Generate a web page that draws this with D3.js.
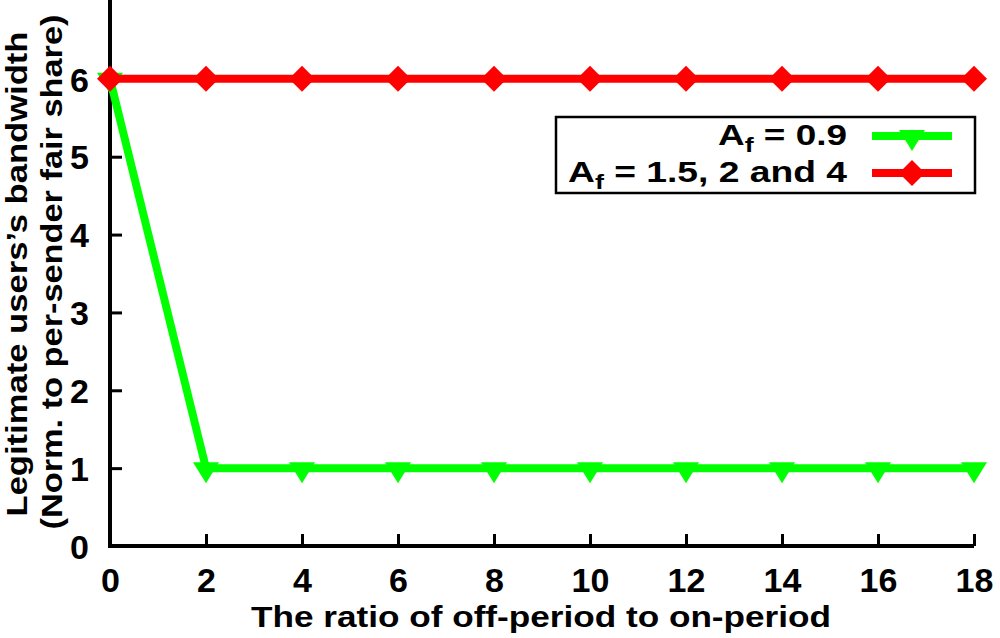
<!DOCTYPE html>
<html>
<head>
<meta charset="utf-8">
<script src="https://cdn.jsdelivr.net/npm/d3@7"></script>
<style>
  body { margin: 0; background: #fff; }
  text { font-family: "Liberation Sans", Arial, sans-serif; font-weight: bold; fill: #000; }
</style>
</head>
<body>
<div id="chart"></div>
<script>
// data
const ratios = [0, 2, 4, 6, 8, 10, 12, 14, 16, 18];
const lowAf = [6, 1, 1, 1, 1, 1, 1, 1, 1, 1];      // A_f = 0.9
const highAf = [6, 6, 6, 6, 6, 6, 6, 6, 6, 6];     // A_f = 1.5, 2 and 4
const xTicks = [0, 2, 4, 6, 8, 10, 12, 14, 16, 18];
const yTicks = [0, 1, 2, 3, 4, 5, 6];

const W = 1000, H = 638;
const svg = d3.select("#chart").append("svg").attr("width", W).attr("height", H);

const x = d3.scaleLinear().domain([0, 18]).range([110, 974]);
const y = d3.scaleLinear().domain([0, 7]).range([546, 1]);

// axes (gnuplot style: ticks point inward)
const axX = svg.append("g").attr("transform", `translate(0,${y(0)})`)
    .call(d3.axisBottom(x).tickValues(xTicks).tickFormat(d3.format("d"))
        .tickSize(-12).tickPadding(34).tickSizeOuter(0));
const axY = svg.append("g").attr("transform", `translate(${x(0)},0)`)
    .call(d3.axisLeft(y).tickValues(yTicks).tickFormat(d3.format("d"))
        .tickSize(-12).tickPadding(21).tickSizeOuter(0));

[axX, axY].forEach(a => {
    a.attr("font-size", null).attr("font-family", null);
    a.select(".domain").attr("stroke", "#000").attr("stroke-width", 4);
    a.selectAll(".tick line").attr("stroke", "#000").attr("stroke-width", 3);
    a.selectAll(".tick text").style("font-size", "34px");
});
// left axis runs to the top edge
axY.select(".domain").attr("d", `M0,${y(0)}V0`);
axX.select(".domain").attr("d", `M${x(0) - 2},0H${x(18)}`);
axY.selectAll(".tick text").attr("dy", "0.36em");
axX.selectAll(".tick text").attr("dy", "0.36em");

// axis titles
svg.append("text").attr("x", 541).attr("y", 627).attr("text-anchor", "middle")
    .style("font-size", "30px").attr("textLength", 580).attr("lengthAdjust", "spacingAndGlyphs")
    .text("The ratio of off-period to on-period");

svg.append("text").attr("transform", "translate(27,274) rotate(-90)").attr("text-anchor", "middle")
    .style("font-size", "30px").attr("textLength", 485).attr("lengthAdjust", "spacingAndGlyphs")
    .text("Legitimate users\u2019s bandwidth");
svg.append("text").attr("transform", "translate(62,272) rotate(-90)").attr("text-anchor", "middle")
    .style("font-size", "30px").attr("textLength", 515).attr("lengthAdjust", "spacingAndGlyphs")
    .text("(Norm. to per-sender fair share)");

// markers
const triangle = "M-13,-6L13,-6L0,15Z";
const diamond = "M0,-13L13,0L0,13L-13,0Z";

const line = d3.line().x(d => x(d[0])).y(d => y(d[1]));
const series = [
    { vals: lowAf, color: "#00ff00", marker: triangle },
    { vals: highAf, color: "#ff0000", marker: diamond }
];

series.forEach(s => {
    const pts = ratios.map((r, i) => [r, s.vals[i]]);
    svg.append("path").datum(pts).attr("d", line)
        .attr("fill", "none").attr("stroke", s.color).attr("stroke-width", 8);
    svg.selectAll(null).data(pts).join("path")
        .attr("d", s.marker).attr("fill", s.color)
        .attr("transform", d => `translate(${x(d[0])},${y(d[1])})`);
});

// legend
const legend = svg.append("g");
legend.append("rect").attr("x", 556).attr("y", 117).attr("width", 419).attr("height", 76)
    .attr("fill", "#fff").attr("stroke", "#000").attr("stroke-width", 2.5);

const legendRows = [
    { label: " = 0.9", s: series[0], cy: 136, len: 129 },
    { label: " = 1.5, 2 and 4", s: series[1], cy: 173, len: 279 }
];
legendRows.forEach(r => {
    const t = legend.append("text").attr("x", 847).attr("y", r.cy + 9).attr("text-anchor", "end")
        .style("font-size", "29px").attr("textLength", r.len).attr("lengthAdjust", "spacingAndGlyphs");
    t.append("tspan").text("A");
    t.append("tspan").attr("dy", 7).style("font-size", "21px").text("f");
    t.append("tspan").attr("dy", -7).text(r.label);
    legend.append("line").attr("x1", 872).attr("x2", 952).attr("y1", r.cy).attr("y2", r.cy)
        .attr("stroke", r.s.color).attr("stroke-width", 8);
    legend.append("path").attr("d", r.s.marker).attr("fill", r.s.color)
        .attr("transform", `translate(912,${r.cy})`);
});
</script>
</body>
</html>
